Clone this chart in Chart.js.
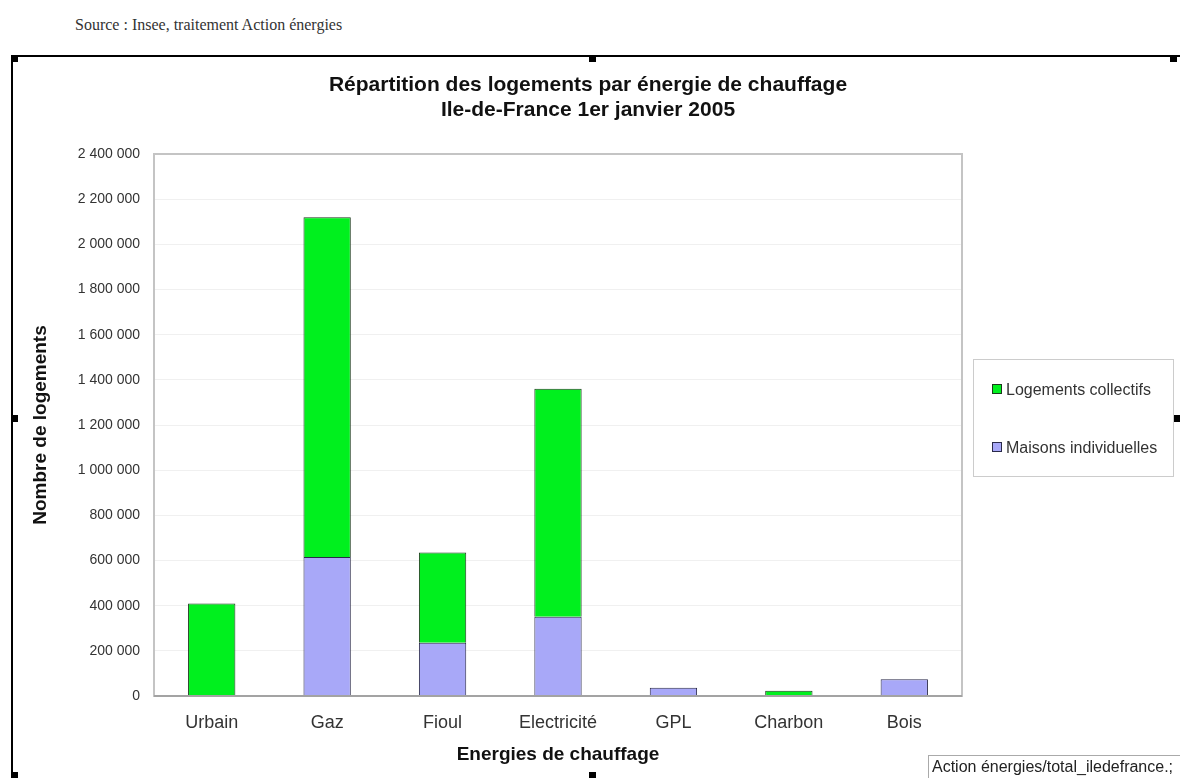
<!DOCTYPE html>
<html lang="fr">
<head>
    <meta charset="UTF-8">
    <title>Répartition des logements par énergie de chauffage</title>
    <style>
        body{
            margin:0;
            width:1180px;
            height:778px;
            overflow:hidden;
            background:#fff;
            position:relative;
            font-family:"Liberation Sans", Arial, sans-serif;
        }
        #source{
            position:absolute;
            left:75px;
            top:16px;
            font-family:"Liberation Serif", "Times New Roman", serif;
            font-size:16px;
            color:#333;
        }
        #frame{
            position:absolute;
            left:11px;
            top:55px;
            width:1200px;
            height:740px;
            border:2px solid #000;
            border-bottom:none;
            box-sizing:border-box;
        }
        .handle{
            position:absolute;
            width:7px;
            height:7px;
            background:#000;
        }
        #chart{
            position:absolute;
            left:0;
            top:0;
        }
        #title{
            position:absolute;
            left:0;
            top:71px;
            width:1176px;
            text-align:center;
            font-size:21px;
            line-height:25px;
            font-weight:bold;
            color:#111;
        }
        #legend{
            position:absolute;
            left:973px;
            top:359px;
            width:201px;
            height:118px;
            border:1px solid #ccc;
            box-sizing:border-box;
            font-size:16px;
            color:#333;
        }
        #legend .item{
            position:absolute;
            left:18px;
            height:18px;
            line-height:18px;
            white-space:nowrap;
        }
        #legend .box{
            display:inline-block;
            width:8px;
            height:8px;
            margin-right:4px;
            vertical-align:1px;
        }
        #tag{
            position:absolute;
            left:928px;
            top:755px;
            width:260px;
            height:24px;
            border:1px solid #aaa;
            box-sizing:border-box;
            font-size:16px;
            color:#222;
            padding:2px 0 0 3px;
            white-space:nowrap;
            overflow:hidden;
            background:#fff;
        }
    </style>
    <script src="https://cdn.jsdelivr.net/npm/chart.js"></script>
</head>
<body>
    <div id="source">Source : Insee, traitement Action énergies</div>
    <canvas id="chart" width="1180" height="778"></canvas>
    <div id="title">Répartition des logements par énergie de chauffage<br>Ile-de-France 1er janvier 2005</div>
    <div id="frame"></div>
    <div class="handle" style="left:11px;top:55px"></div>
    <div class="handle" style="left:589px;top:55px"></div>
    <div class="handle" style="left:1170px;top:55px"></div>
    <div class="handle" style="left:11px;top:415px"></div>
    <div class="handle" style="left:1174px;top:415px"></div>
    <div class="handle" style="left:11px;top:772px"></div>
    <div class="handle" style="left:589px;top:772px"></div>
    <div id="legend"></div>
    <div id="tag">Action énergies/total_iledefrance.;</div>
    <script>
        const categories = ['Urbain', 'Gaz', 'Fioul', 'Electricité', 'GPL', 'Charbon', 'Bois'];
        const maisonsIndividuelles = [0, 615000, 236000, 351000, 37000, 0, 74000];
        const logementsCollectifs = [410000, 1505000, 399000, 1009000, 0, 23000, 0];
        const yTicks = [0, 200000, 400000, 600000, 800000, 1000000, 1200000, 1400000, 1600000, 1800000, 2000000, 2200000, 2400000];

        const formatNombre = v => v.toString().replace(/\B(?=(\d{3})+(?!\d))/g, ' ');

        // cadre gris autour de la zone de tracé
        const plotFrame = {
            id: 'plotFrame',
            afterDraw(chart) {
                const a = chart.chartArea;
                const c = chart.ctx;
                c.save();
                c.strokeStyle = '#c4c4c4';
                c.lineWidth = 2;
                c.strokeRect(a.left, a.top, a.right - a.left, a.bottom - a.top);
                c.strokeStyle = '#999';
                c.lineWidth = 1.5;
                c.beginPath();
                c.moveTo(a.left, a.bottom);
                c.lineTo(a.right, a.bottom);
                c.stroke();
                c.restore();
            }
        };

        const ctx = document.getElementById('chart').getContext('2d');
        const chart = new Chart(ctx, {
            type: 'bar',
            data: {
                labels: categories,
                datasets: [
                    {
                        label: 'Maisons individuelles',
                        data: maisonsIndividuelles,
                        backgroundColor: '#a8a8f8',
                        borderColor: '#2a2a4a',
                        borderWidth: 1
                    },
                    {
                        label: 'Logements collectifs',
                        data: logementsCollectifs,
                        backgroundColor: '#00f01e',
                        borderColor: '#1c3a1c',
                        borderWidth: 1
                    }
                ]
            },
            options: {
                responsive: false,
                animation: false,
                layout: {
                    padding: { left: 20, right: 218, top: 154, bottom: 10 }
                },
                datasets: {
                    bar: { categoryPercentage: 1, barPercentage: 0.41 }
                },
                plugins: {
                    legend: { display: false },
                    tooltip: { enabled: false }
                },
                scales: {
                    x: {
                        stacked: true,
                        grid: { display: false, drawTicks: false },
                        border: { display: false },
                        ticks: {
                            color: '#333',
                            padding: 16,
                            font: { family: 'Liberation Sans', size: 18 }
                        },
                        title: {
                            display: true,
                            text: 'Energies de chauffage',
                            color: '#111',
                            font: { family: 'Liberation Sans', size: 19, weight: 'bold' },
                            padding: { top: 2, bottom: 2 }
                        },
                        afterFit(scale) { scale.height = 72; }
                    },
                    y: {
                        stacked: true,
                        min: 0,
                        max: 2400000,
                        afterBuildTicks(scale) {
                            scale.ticks = yTicks.map(v => ({ value: v }));
                        },
                        grid: { color: '#f0f0f0', drawTicks: false },
                        border: { display: false },
                        ticks: {
                            color: '#333',
                            padding: 14,
                            font: { family: 'Liberation Sans', size: 14 },
                            callback: v => formatNombre(v)
                        },
                        title: {
                            display: true,
                            text: 'Nombre de logements',
                            color: '#111',
                            font: { family: 'Liberation Sans', size: 19, weight: 'bold' },
                            padding: { top: 9, bottom: 4 }
                        },
                        afterFit(scale) { scale.width = 134; }
                    }
                }
            },
            plugins: [plotFrame]
        });

        // légende dans l'ordre inverse de l'empilement
        const legend = document.getElementById('legend');
        const legendTops = [21, 79];
        chart.data.datasets.slice().reverse().forEach((ds, i) => {
            const item = document.createElement('div');
            item.className = 'item';
            item.style.top = legendTops[i] + 'px';
            item.innerHTML = '<span class="box" style="background:' + ds.backgroundColor +
                ';border:1px solid ' + ds.borderColor + '"></span>' + ds.label;
            legend.appendChild(item);
        });
    </script>
</body>
</html>
